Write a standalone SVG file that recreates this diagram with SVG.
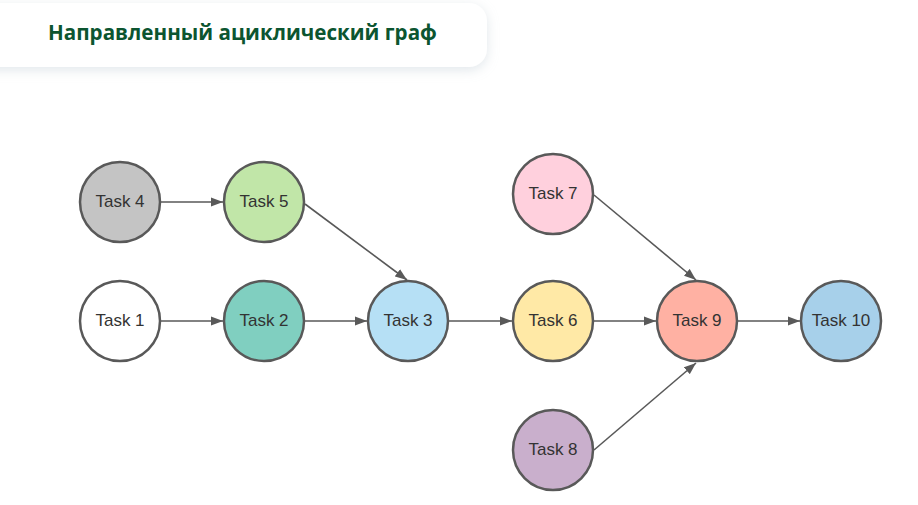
<svg xmlns="http://www.w3.org/2000/svg" width="918" height="505" viewBox="0 0 918 505">
<style>
.node circle{stroke:#595959;stroke-width:2.5}
.node text{font-family:"Liberation Sans",Arial,sans-serif;font-size:17px;fill:#333;text-anchor:middle;dominant-baseline:central}
.edge{stroke:#595959;stroke-width:1.6;fill:none;marker-end:url(#arr)}
.title{font-family:"Open Sans","Noto Sans",sans-serif;font-weight:700;font-size:20.6px;fill:#0c5530}
</style>
<defs>
<marker id="arr" viewBox="0 0 12 10" refX="12" refY="5" markerWidth="12" markerHeight="10" markerUnits="userSpaceOnUse" orient="auto">
<path d="M0,0.5 L12,5 L0,9.5 Z" fill="#595959"/>
</marker>
<filter id="sh" x="-20%" y="-50%" width="140%" height="200%">
<feDropShadow dx="0" dy="3" stdDeviation="6" flood-color="#a9b8c4" flood-opacity="0.35"/>
</filter>
</defs>
<rect width="918" height="505" fill="#ffffff"/>
<g id="title">
<rect x="-30" y="3" width="517" height="64" rx="18" fill="#ffffff" filter="url(#sh)"/>
<text class="title" x="48" y="40">Направленный ациклический граф</text>
</g>
<g id="connectors">
<line class="edge" x1="160" y1="202" x2="223" y2="202"/>
<line class="edge" x1="160" y1="321" x2="223" y2="321"/>
<line class="edge" x1="305" y1="321" x2="367" y2="321"/>
<line class="edge" x1="305" y1="204" x2="407" y2="280"/>
<line class="edge" x1="448" y1="321" x2="512" y2="321"/>
<line class="edge" x1="594" y1="321" x2="656" y2="321"/>
<line class="edge" x1="594" y1="195" x2="696" y2="280"/>
<line class="edge" x1="594" y1="450" x2="696" y2="363"/>
<line class="edge" x1="738" y1="321" x2="800" y2="321"/>
</g>
<g id="task4" class="node"><circle cx="120" cy="202" r="40" fill="#c4c4c4"/><text x="120" y="201">Task 4</text></g>
<g id="task5" class="node"><circle cx="264" cy="202" r="40" fill="#c1e6a8"/><text x="264" y="201">Task 5</text></g>
<g id="task1" class="node"><circle cx="120" cy="321" r="40" fill="#ffffff"/><text x="120" y="320">Task 1</text></g>
<g id="task2" class="node"><circle cx="264" cy="321" r="40" fill="#80cfc0"/><text x="264" y="320">Task 2</text></g>
<g id="task3" class="node"><circle cx="408" cy="321" r="40" fill="#b6e0f5"/><text x="408" y="320">Task 3</text></g>
<g id="task7" class="node"><circle cx="553" cy="194" r="40" fill="#ffd0dd"/><text x="553" y="193">Task 7</text></g>
<g id="task6" class="node"><circle cx="553" cy="321" r="40" fill="#ffe9a6"/><text x="553" y="320">Task 6</text></g>
<g id="task8" class="node"><circle cx="553" cy="450" r="40" fill="#c9afcc"/><text x="553" y="449">Task 8</text></g>
<g id="task9" class="node"><circle cx="697" cy="321" r="40" fill="#ffb1a3"/><text x="697" y="320">Task 9</text></g>
<g id="task10" class="node"><circle cx="841" cy="321" r="40" fill="#a7d0ea"/><text x="841" y="320">Task 10</text></g>
</svg>
